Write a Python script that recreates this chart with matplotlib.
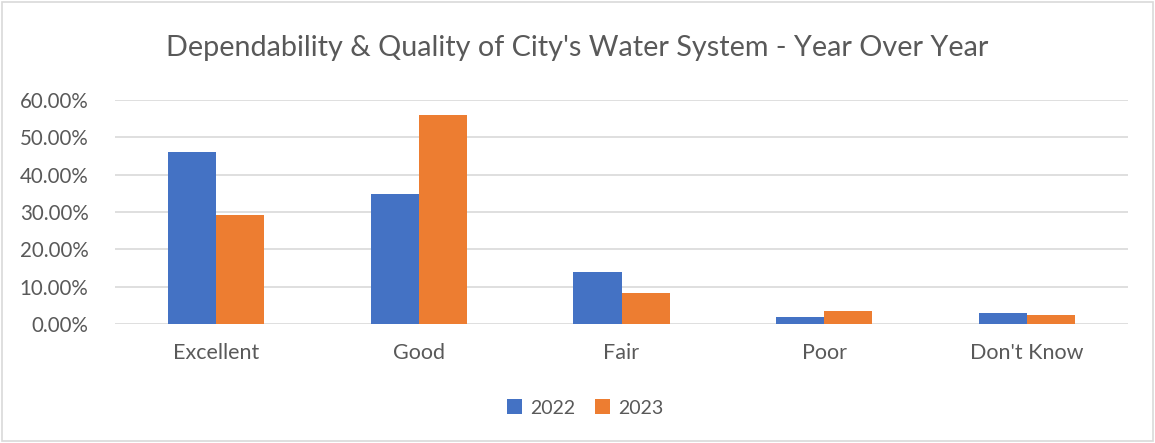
import numpy as np
import matplotlib.pyplot as plt
from matplotlib.ticker import FuncFormatter
from matplotlib.patches import Rectangle

categories = ["Excellent", "Good", "Fair", "Poor", "Don't Know"]
vals_2022 = [0.460, 0.349, 0.138, 0.019, 0.029]
vals_2023 = [0.292, 0.561, 0.084, 0.036, 0.023]
series_names = ["2022", "2023"]

plt.rcParams['font.family'] = ['Lato', 'DejaVu Sans']
txt = '#595959'

fig = plt.figure(figsize=(11.55, 4.43), dpi=100)
W, H = 1155., 443.
ax = fig.add_axes([115 / W, 1 - 324 / H, (1128 - 115) / W, (324 - 100) / H])

x = np.arange(len(categories))
w = 0.237
ax.bar(x - w / 2, vals_2022, w, color='#4472C4', label=series_names[0], zorder=3)
ax.bar(x + w / 2, vals_2023, w, color='#ED7D31', label=series_names[1], zorder=3)

ax.set_xlim(-0.5, len(categories) - 0.5)
ax.set_ylim(0, 0.6)
ax.set_yticks(np.arange(0, 0.61, 0.1))
ax.yaxis.set_major_formatter(FuncFormatter(lambda v, p: "%.2f%%" % (v * 100)))
ax.set_xticks(x)
ax.set_xticklabels(categories)
ax.tick_params(axis='both', length=0, colors=txt)
ax.tick_params(axis='y', pad=19, labelsize=14.8)
ax.tick_params(axis='x', pad=14, labelsize=15.5)
ax.grid(axis='y', color='#d9d9d9', linewidth=1.2, zorder=0)
for s in ax.spines.values():
    s.set_visible(False)

fig.text(0.5, 1 - 48 / H, "Dependability & Quality of City's Water System - Year Over Year",
         ha='center', va='center', fontsize=20.7, color=txt)

leg = fig.legend(loc='center', bbox_to_anchor=(585 / W, 1 - 408 / H), ncol=2, frameon=False,
                 fontsize=14, handlelength=0.8, handleheight=0.8, handletextpad=0.4,
                 columnspacing=1.0)
for t in leg.get_texts():
    t.set_color(txt)

fig.patches.append(Rectangle((2 / W, 2 / H), 1 - 4 / W, 1 - 4 / H, transform=fig.transFigure,
                             fill=False, edgecolor='#d9d9d9', linewidth=1.2))

fig.savefig("out.png", dpi=100)
